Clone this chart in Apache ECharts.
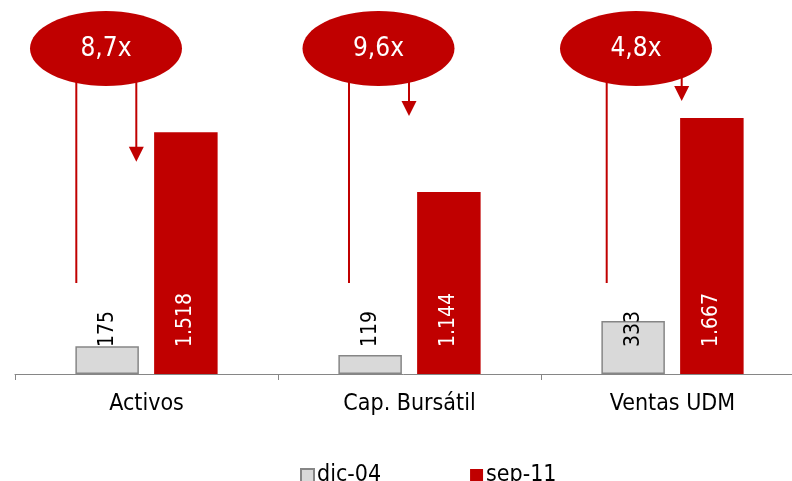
<!DOCTYPE html>
<html><head><meta charset="utf-8">
<script src="https://cdn.jsdelivr.net/npm/echarts@6/dist/echarts.min.js"></script>
<style>html,body{margin:0;padding:0;background:#fff}#c{width:792px;height:481px}</style>
</head><body><div id="c"></div>
<script>
const categories = ['Activos', 'Cap. Bursátil', 'Ventas UDM'];
const seriesNames = ['dic-04', 'sep-11'];
const dic04 = [175, 119, 333];
const sep11 = [1518, 1144, 1608];
const dic04Labels = ['175', '119', '333'];
const sep11Labels = ['1.518', '1.144', '1.667'];
const multiples = ['8,7x', '9,6x', '4,8x'];

const FONT = '"DejaVu Sans Condensed", "DejaVu Sans", sans-serif';
const RED = '#C00000';

// annotation layout (hand-placed callouts)
const callouts = [
  {cx: 106, lineX: 76.3, arrowX: 136.3, tip: 161.7},
  {cx: 378.5, lineX: 349, arrowX: 409, tip: 116},
  {cx: 636, lineX: 606.7, arrowX: 681.7, tip: 101}
];
const graphics = [];
callouts.forEach((c, i) => {
  graphics.push({type: 'line', shape: {x1: c.lineX, y1: 60, x2: c.lineX, y2: 283}, style: {stroke: RED, lineWidth: 2}, z: 10});
  graphics.push({type: 'line', shape: {x1: c.arrowX, y1: 60, x2: c.arrowX, y2: c.tip - 14}, style: {stroke: RED, lineWidth: 2}, z: 10});
  graphics.push({type: 'polygon', shape: {points: [[c.arrowX - 7.5, c.tip - 15], [c.arrowX + 7.5, c.tip - 15], [c.arrowX, c.tip]]}, style: {fill: RED}, z: 10});
  graphics.push({type: 'ellipse', shape: {cx: c.cx, cy: 48.5, rx: 76, ry: 37.5}, style: {fill: RED}, z: 11});
  graphics.push({type: 'text', x: c.cx, y: 49, style: {text: multiples[i], fill: '#fff', font: '26px ' + FONT, align: 'center', verticalAlign: 'middle'}, z: 12});
});

const chart = echarts.init(document.getElementById('c'), null, {renderer: 'canvas'});
chart.setOption({
  animation: false,
  backgroundColor: '#fff',
  grid: {left: 15, width: 789, top: 55.6, bottom: 107, containLabel: false, outerBoundsMode: 'none'},
  legend: {
    left: 295, top: 459, itemGap: 89, itemWidth: 13, itemHeight: 13, icon: 'rect',
    textStyle: {fontFamily: FONT, fontSize: 23, color: '#000', padding: [0, 0, 0, -2]},
    data: seriesNames
  },
  xAxis: {
    type: 'category', data: categories,
    axisLine: {lineStyle: {color: '#868686', width: 1}},
    axisTick: {show: true, length: 6, lineStyle: {color: '#868686'}},
    axisLabel: {interval: 0, margin: 19, fontFamily: FONT, fontSize: 23, color: '#000'}
  },
  yAxis: {type: 'value', min: 0, max: 2000, show: false, splitLine: {show: false}},
  series: [
    {
      name: seriesNames[0], type: 'bar', data: dic04, barWidth: 63.5, barGap: '24%',
      itemStyle: {color: '#D9D9D9', borderColor: '#868686', borderWidth: 1.5},
      label: {show: true, position: 'insideBottom', distance: 27, rotate: 90, align: 'left', verticalAlign: 'middle',
        fontFamily: FONT, fontSize: 21, color: '#000', formatter: p => dic04Labels[p.dataIndex]}
    },
    {
      name: seriesNames[1], type: 'bar', data: sep11, barWidth: 63.5, barGap: '24%',
      itemStyle: {color: RED},
      label: {show: true, position: 'insideBottom', distance: 27, rotate: 90, align: 'left', verticalAlign: 'middle',
        fontFamily: FONT, fontSize: 21, color: '#fff', formatter: p => sep11Labels[p.dataIndex]}
    }
  ],
  graphic: graphics
});
</script></body></html>
